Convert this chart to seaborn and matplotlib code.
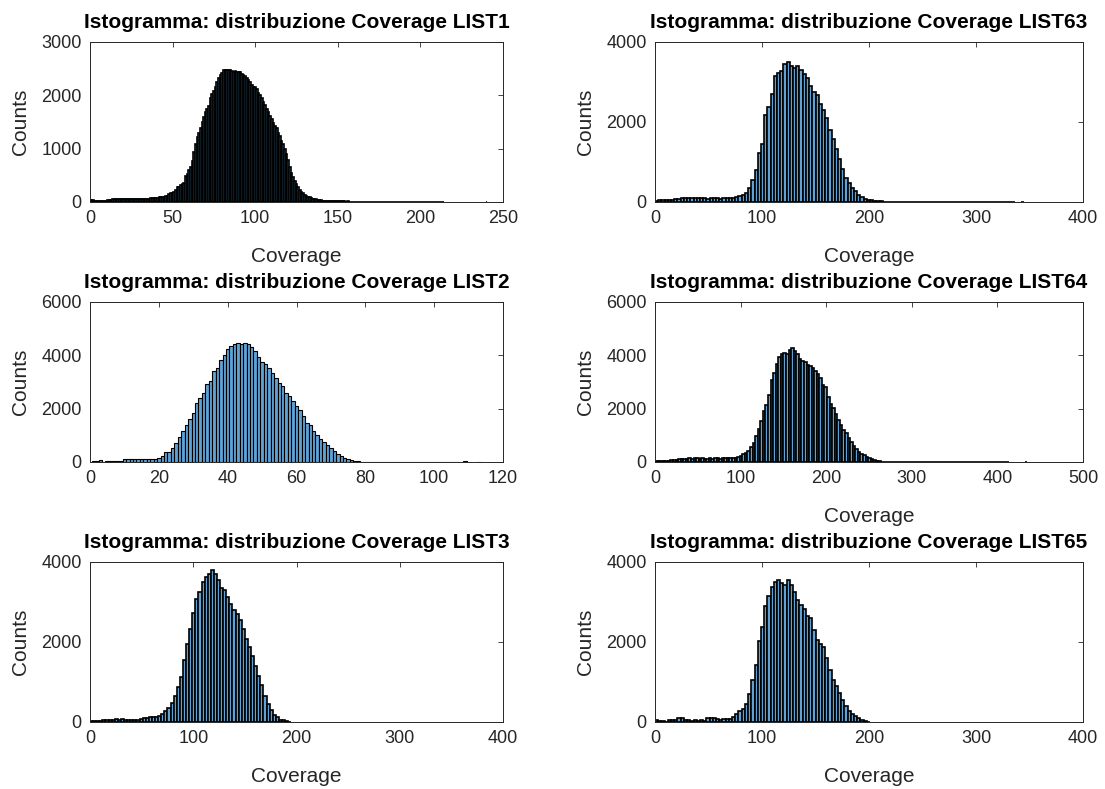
import numpy as np
import pandas as pd
import matplotlib
matplotlib.use("Agg")
import matplotlib.pyplot as plt
import seaborn as sns

# bin counts (first bin edge, bin width, counts)
list1_start, list1_step = -0.5, 1
list1_counts = [
    30, 32, 30, 28, 26, 16, 12, 10, 14, 18,
    28, 32, 30, 42, 55, 60, 62, 64, 60, 62,
    64, 60, 58, 62, 65, 60, 62, 60, 64, 60,
    62, 65, 60, 58, 62, 64, 60, 66, 72, 78,
    80, 82, 85, 95, 100, 100, 105, 110, 150, 165,
    170, 180, 230, 280, 290, 320, 340, 350, 480, 530,
    600, 660, 760, 940, 1080, 1220, 1300, 1380, 1500, 1600,
    1680, 1750, 1800, 1950, 2030, 2080, 2160, 2250, 2330, 2380,
    2420, 2470, 2470, 2480, 2470, 2470, 2460, 2440, 2450, 2440,
    2440, 2430, 2400, 2380, 2370, 2330, 2280, 2250, 2200, 2160,
    2150, 2120, 2050, 2000, 1950, 1880, 1810, 1750, 1680, 1620,
    1560, 1480, 1420, 1380, 1300, 1230, 1150, 1080, 1000, 900,
    780, 660, 540, 470, 400, 340, 280, 230, 190, 160,
    135, 115, 100, 85, 75, 65, 55, 48, 40, 35,
    30, 26, 22, 20, 18, 16, 15, 14, 13, 12,
    12, 11, 10, 11, 10, 9, 10, 8, 9, 8,
    8, 7, 8, 6, 7, 8, 6, 7, 6, 7,
    6, 7, 5, 6, 7, 6, 5, 6, 7, 6,
    6, 5, 7, 6, 5, 6, 5, 6, 5, 4,
    5, 6, 4, 5, 6, 5, 4, 5, 6, 5,
    5, 4, 6, 5, 4, 5, 4, 3, 4, 5,
    4, 5, 3, 4, 5, 0, 0, 0, 0, 0,
    0, 0, 0, 0, 0, 0, 0, 0, 0, 0,
    0, 0, 0, 0, 0, 0, 0, 0, 0, 0,
    6,
]

list2_start, list2_step = 0.5, 1
list2_counts = [
    25, 20, 60, 15, 40, 45, 50, 55, 50, 120,
    125, 125, 120, 125, 130, 120, 115, 125, 130, 135,
    225, 375, 390, 540, 725, 940, 1160, 1390, 1600, 1850,
    2225, 2410, 2600, 2910, 3040, 3410, 3540, 3810, 4010, 4225,
    4350, 4440, 4450, 4440, 4450, 4410, 4310, 4160, 3940, 3760,
    3660, 3540, 3350, 3160, 2975, 2850, 2600, 2475, 2290, 2100,
    1940, 1725, 1475, 1390, 1160, 1000, 870, 740, 640, 520,
    400, 300, 230, 160, 110, 70, 50, 20, 15, 14,
    13, 12, 12, 11, 12, 10, 11, 10, 10, 9,
    10, 9, 8, 9, 8, 8, 7, 8, 7, 7,
    6, 7, 6, 6, 5, 6, 5, 0, 20, 0,
    0, 0, 15,
]

list3_start, list3_step = 0, 3
list3_counts = [
    15, 20, 25, 30, 55, 60, 55, 60, 70, 60,
    65, 60, 55, 60, 58, 62, 70, 100, 110, 120,
    125, 130, 160, 210, 280, 340, 470, 660, 880, 1130,
    1540, 1960, 2320, 2720, 3080, 3260, 3490, 3620, 3710, 3800,
    3690, 3550, 3360, 3290, 3120, 2960, 2790, 2700, 2540, 2330,
    2080, 1870, 1660, 1410, 1150, 920, 650, 440, 290, 180,
    120, 60, 40, 20, 8,
]

list63_start, list63_step = 0, 3
list63_counts = [
    20, 55, 50, 40, 60, 55, 70, 85, 95, 100,
    100, 105, 110, 100, 105, 95, 70, 90, 100, 95,
    85, 90, 95, 100, 110, 125, 140, 170, 230, 350,
    560, 810, 1230, 1450, 2170, 2380, 2690, 3140, 3230, 3270,
    3440, 3500, 3400, 3340, 3390, 3310, 3200, 3100, 2890, 2750,
    2680, 2440, 2300, 2090, 1790, 1580, 1330, 1070, 820, 610,
    480, 355, 270, 185, 125, 76, 58, 45, 30, 20,
    15, 12, 11, 10, 11, 10, 9, 10, 9, 8,
    9, 8, 8, 7, 8, 7, 7, 6, 7, 6,
    6, 7, 6, 5, 6, 5, 6, 5, 5, 4,
    5, 4, 5, 4, 4, 5, 4, 3, 4, 4,
    3, 4, 0, 0, 8, 0,
]

list64_start, list64_step = 0, 3
list64_counts = [
    40, 45, 30, 35, 50, 40, 60, 80, 75, 95,
    120, 130, 115, 140, 125, 135, 145, 130, 140, 120,
    130, 145, 125, 135, 145, 130, 140, 150, 135, 145,
    150, 165, 190, 240, 290, 340, 400, 550, 720, 960,
    1250, 1520, 1900, 2140, 2500, 3080, 3320, 3680, 3950, 4060,
    4090, 4050, 4200, 4260, 4180, 4050, 3880, 3780, 3750, 3650,
    3600, 3510, 3420, 3300, 3140, 2890, 2820, 2450, 2190, 2010,
    1790, 1580, 1390, 1210, 1080, 900, 740, 600, 470, 380,
    300, 265, 200, 160, 130, 80, 55, 30, 15, 12,
    11, 10, 11, 10, 10, 9, 10, 9, 9, 8,
    9, 8, 8, 7, 8, 7, 7, 8, 7, 6,
    7, 6, 6, 7, 6, 5, 6, 5, 6, 5,
    5, 6, 5, 4, 5, 5, 4, 5, 4, 4,
    5, 4, 4, 3, 4, 4, 3, 4, 0, 0,
    0, 0, 0, 0, 6,
]

list65_start, list65_step = 0, 3
list65_counts = [
    40, 35, 20, 10, 40, 45, 50, 90, 100, 50,
    40, 35, 38, 35, 40, 35, 90, 92, 88, 65,
    62, 68, 65, 70, 125, 200, 270, 330, 460, 700,
    1050, 1420, 2020, 2380, 2900, 3150, 3380, 3500, 3550, 3470,
    3420, 3560, 3420, 3250, 3050, 2930, 2830, 2650, 2600, 2300,
    2040, 1950, 1870, 1590, 1300, 1060, 890, 720, 560, 400,
    270, 200, 160, 100, 50, 25, 10,
]

titles = ["LIST1", "LIST63", "LIST2", "LIST64", "LIST3", "LIST65"]

blue = "#5fa3d6"
ink = "#262626"

sns.set_style("white")
plt.rcParams["font.family"] = ["Liberation Sans", "DejaVu Sans"]

fig = plt.figure(figsize=(11.05, 7.89), dpi=100)

W, H = 1105, 789
col_x = [(90, 413), (655, 428)]
row_y = [(42, 202), (302, 462), (562, 722)]


def panel(pos, name, start, step, counts, xmax, xstep, ymax, ystep, lw, show_xlabel=True):
    (x0, w), (top, bottom) = pos
    ax = fig.add_axes([x0 / W, 1 - bottom / H, w / W, (bottom - top) / H])
    edges = start + step * np.arange(len(counts) + 1)
    df = pd.DataFrame({"coverage": edges[:-1] + step / 2, "n": counts})
    sns.histplot(data=df, x="coverage", weights="n", bins=list(edges), ax=ax,
                 color=blue, alpha=1, edgecolor="black", linewidth=lw)
    # empty bins: no outline
    for p in ax.patches:
        if p.get_height() == 0:
            p.set_visible(False)
    ax.set_xlim(0, xmax)
    ax.set_ylim(0, ymax)
    ax.set_xticks(np.arange(0, xmax + 1, xstep))
    ax.set_yticks(np.arange(0, ymax + 1, ystep))
    ax.tick_params(direction="in", top=True, right=True, length=3.5, width=0.6,
                   labelsize=13, colors=ink, pad=6)
    for s in ax.spines.values():
        s.set_color(ink)
        s.set_linewidth(0.7)
    ax.set_title("Istogramma: distribuzione Coverage " + name,
                 fontsize=15, fontweight="bold", color="black", pad=10)
    ax.set_ylabel("Counts", fontsize=15, color=ink, labelpad=8)
    if show_xlabel:
        ax.set_xlabel("Coverage", fontsize=15, color=ink, labelpad=14)
    else:
        ax.set_xlabel("")
    return ax


panel((col_x[0], row_y[0]), titles[0], list1_start, list1_step, list1_counts, 250, 50, 3000, 1000, 1.2)
panel((col_x[1], row_y[0]), titles[1], list63_start, list63_step, list63_counts, 400, 100, 4000, 2000, 1.2)
panel((col_x[0], row_y[1]), titles[2], list2_start, list2_step, list2_counts, 120, 20, 6000, 2000, 0.8, show_xlabel=False)
panel((col_x[1], row_y[1]), titles[3], list64_start, list64_step, list64_counts, 500, 100, 6000, 2000, 1.2)
panel((col_x[0], row_y[2]), titles[4], list3_start, list3_step, list3_counts, 400, 100, 4000, 2000, 1.2)
panel((col_x[1], row_y[2]), titles[5], list65_start, list65_step, list65_counts, 400, 100, 4000, 2000, 1.2)

fig.savefig("out.png", dpi=100)
